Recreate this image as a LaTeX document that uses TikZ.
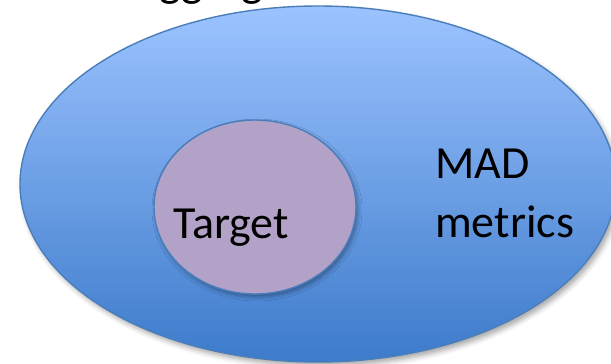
\documentclass[tikz,border=0pt]{standalone}
\usepackage{fontspec}
\setmainfont{Carlito}
\usetikzlibrary{shapes.geometric,shadows.blur}
\definecolor{outertop}{HTML}{9CC3FF}
\definecolor{outerbot}{HTML}{3D7BCB}
\definecolor{outerline}{HTML}{4A7EBB}
\definecolor{innerfill}{HTML}{B3A2C7}
\tikzset{
  outerell/.style={ellipse, inner sep=0pt, draw=outerline, line width=1.4pt,
    top color=outertop, bottom color=outerbot,
    blur shadow={shadow xshift=3pt, shadow yshift=-4pt, shadow blur radius=5pt, shadow opacity=35}},
  innerell/.style={ellipse, inner sep=0pt, draw=outerline, line width=1.4pt, fill=innerfill,
    blur shadow={shadow xshift=2pt, shadow yshift=-3pt, shadow blur radius=4pt, shadow opacity=35}},
  lbl/.style={inner sep=0pt, font=\fontsize{46}{59}\selectfont, text=black}
}
\begin{document}
\begin{tikzpicture}[x=1pt,y=-1pt]
\useasboundingbox (0,0) rectangle (611,364);
\node[lbl, anchor=base west] (title) at (133,-3) {Aggregate};
\node[outerell, minimum width=596pt, minimum height=356pt] (outer) at (318,184) {};
\node[innerell, minimum width=202pt, minimum height=174pt] (inner) at (255,207) {};
\node[lbl, anchor=base west] (target) at (173,238) {Target};
\node[lbl, anchor=base west, align=left] (mad) at (435,237) {MAD\\metrics};
\end{tikzpicture}
\end{document}
